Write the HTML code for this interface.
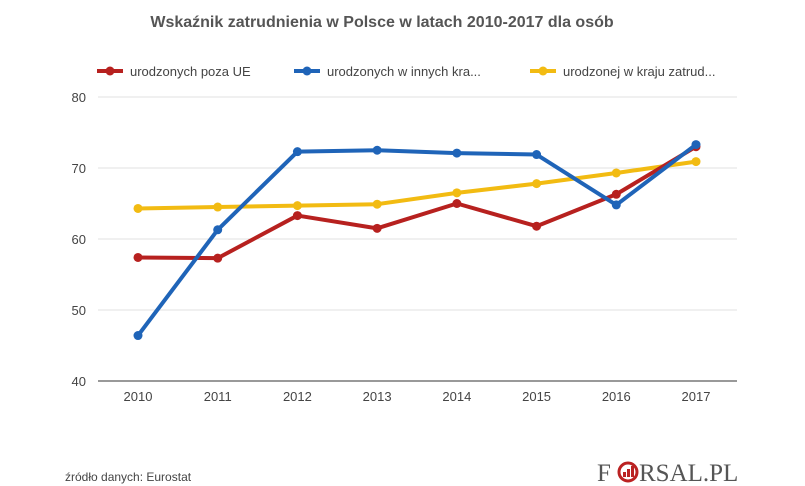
<!DOCTYPE html>
<html><head><meta charset="utf-8"><style>
body{margin:0;background:#fff;width:805px;height:486px;overflow:hidden;font-family:"Liberation Sans",sans-serif}
svg{display:block}
</style></head><body>
<svg id="chart" width="805" height="486">
<text x="382" y="27" text-anchor="middle" font-size="16" font-weight="bold" fill="#555">Wskaźnik zatrudnienia w Polsce w latach 2010-2017 dla osób</text>
<g id="legend"></g>
<g id="grid"></g><g id="series"></g>
<text x="65" y="481" font-size="12" fill="#444">źródło danych: Eurostat</text>
<g>
<text x="597" y="481" font-size="25" font-family="Liberation Serif,serif" fill="#555" letter-spacing="1">F</text>
<circle cx="628" cy="472" r="9" fill="none" stroke="#b22" stroke-width="3"/>
<rect x="623" y="472" width="3" height="5" fill="#b22"/><rect x="627" y="469" width="3" height="8" fill="#b22"/><rect x="631" y="466" width="3" height="11" fill="#b22"/>
<text x="639" y="481" font-size="25" font-family="Liberation Serif,serif" fill="#555">RSAL.PL</text>
</g>
</svg>
<script>
const years=["2010","2011","2012","2013","2014","2015","2016","2017"];
const outsideEU=[57.4,57.3,63.3,61.5,65.0,61.8,66.3,73.0];
const otherEU=[46.4,61.3,72.3,72.5,72.1,71.9,64.8,73.3];
const native=[64.3,64.5,64.7,64.9,66.5,67.8,69.3,70.9];
const yTicks=[40,50,60,70,80];
const seriesNames=["urodzonych poza UE","urodzonych w innych kra...","urodzonej w kraju zatrud..."];
const NS="http://www.w3.org/2000/svg";
const x=i=>138+i*(696-138)/7;
const y=v=>381-(v-40)*(381-97)/40;
function mk(t,a,p){const e=document.createElementNS(NS,t);for(const k in a)e.setAttribute(k,a[k]);p.appendChild(e);return e;}
const grid=document.getElementById('grid');
yTicks.forEach(v=>{
 const l=mk('line',{x1:98,x2:737,y1:y(v),y2:y(v),stroke:v===40?'#333':'#e0e0e0','stroke-width':1},grid);
 
 
 const t=mk('text',{x:86,y:y(v)+5,'text-anchor':'end','font-size':13,fill:'#444'},grid);t.textContent=v;
 
 
});
years.forEach((yr,i)=>{
 const t=mk('text',{x:x(i),y:401,'text-anchor':'middle','font-size':13,fill:'#444'},grid);t.textContent=yr;
 
 
});
const colors=["#b7211f","#1f64b8","#f2bb12"];
const data=[outsideEU,otherEU,native];
const sg=document.getElementById('series');
[2,0,1].forEach(s=>{
 const g=mk('g',{},sg);
 
 
 mk('polyline',{points:data[s].map((v,i)=>x(i)+','+y(v)).join(' '),fill:'none',stroke:colors[s],'stroke-width':4,'stroke-linejoin':'round'},g);
 data[s].forEach((v,i)=>{const c=mk('circle',{cx:x(i),cy:y(v),r:4.5,fill:colors[s]},g);
  
  });
});
const lg=document.getElementById('legend');
const lx=[97,294,530];
seriesNames.forEach((n,s)=>{
 const g=mk('g',{},lg);
 
 
 mk('line',{x1:lx[s],x2:lx[s]+26,y1:71,y2:71,stroke:colors[s],'stroke-width':4},g);
 mk('circle',{cx:lx[s]+13,cy:71,r:4.5,fill:colors[s]},g);
 const t=mk('text',{x:lx[s]+33,y:76,'font-size':13,fill:'#444'},g);t.textContent=n;
});
</script>
</body></html>
